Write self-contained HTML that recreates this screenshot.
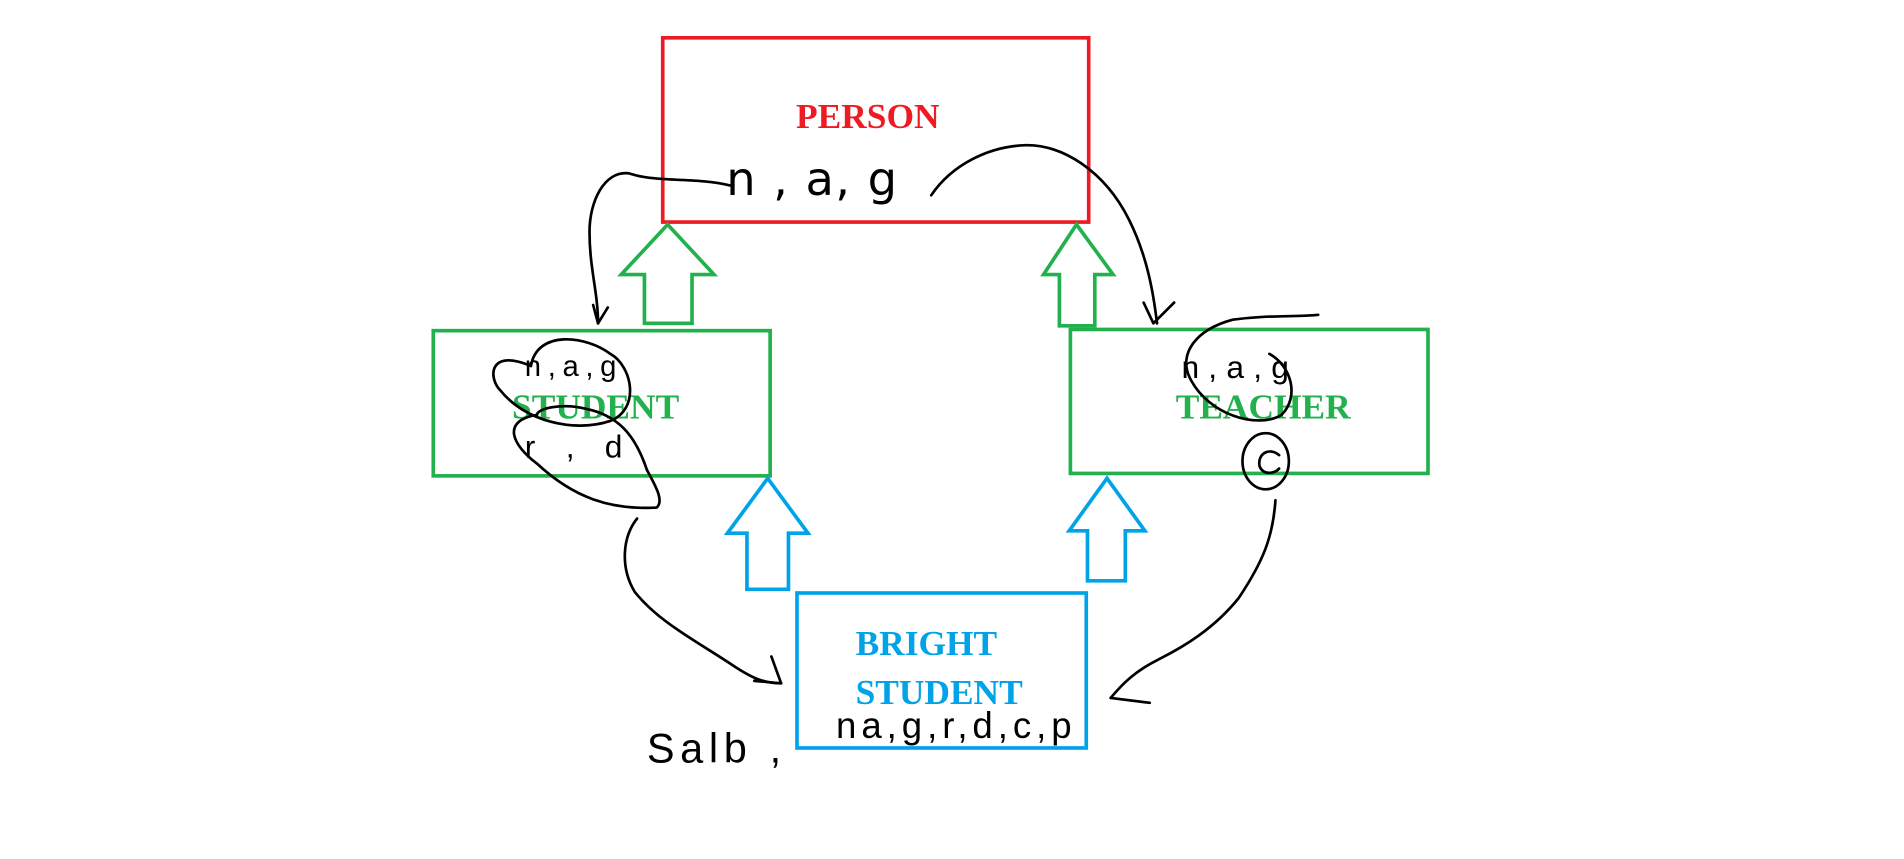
<!DOCTYPE html>
<html><head><meta charset="utf-8"><style>
html,body{margin:0;padding:0;background:#fff;}
svg{display:block;}
</style></head><body>
<svg width="1904" height="859" viewBox="0 0 1560 704" preserveAspectRatio="none" xmlns="http://www.w3.org/2000/svg">
<rect width="1560" height="704" fill="#fff"/>
<!-- boxes -->
<rect x="543" y="31" width="349" height="151" fill="none" stroke="#ed1c24" stroke-width="3"/>
<rect x="355" y="271" width="276" height="119" fill="none" stroke="#22b14c" stroke-width="3"/>
<rect x="877" y="270" width="293" height="118" fill="none" stroke="#22b14c" stroke-width="3"/>
<rect x="653" y="486" width="237" height="127" fill="none" stroke="#00a2e8" stroke-width="3"/>
<g font-family="Liberation Serif, serif" font-weight="bold" font-size="29">
<text x="711" y="105" fill="#ed1c24" text-anchor="middle">PERSON</text>
<text x="488" y="343" fill="#22b14c" text-anchor="middle">STUDENT</text>
<text x="1035" y="343" fill="#22b14c" text-anchor="middle">TEACHER</text>
<text x="701" y="537" fill="#00a2e8">BRIGHT</text>
<text x="701" y="577" fill="#00a2e8">STUDENT</text>
</g>
<!-- block arrows -->
<polygon points="547,184 585,225 567,225 567,265 528,265 528,225 509,225" fill="none" stroke="#22b14c" stroke-width="3"/>
<polygon points="882,184 912,225 897,225 897,267 868,267 868,225 855,225" fill="none" stroke="#22b14c" stroke-width="3"/>
<polygon points="629,392 662,437 646,437 646,483 612,483 612,437 596,437" fill="none" stroke="#00a2e8" stroke-width="3"/>
<polygon points="907,392 938,435 922,435 922,476 891,476 891,435 876,435" fill="none" stroke="#00a2e8" stroke-width="3"/>
<!-- handwriting -->
<g fill="none" stroke="#000" stroke-width="2.2" stroke-linecap="round" stroke-linejoin="round">
<path d="M598,152 C570,145 540,150 515,142 C495,140 483,165 483,190 C483,220 490,240 490,265"/>
<path d="M486,250 L490,265 L498,252"/>
<path d="M763,160 C780,135 810,120 840,119 C870,118 905,140 925,180 C940,210 945,240 948,265"/>
<path d="M937,248 L945,265 L962,248"/>
<path d="M435,300 C400,285 400,310 410,320 C430,345 470,355 500,345 C525,335 518,300 500,290 C480,275 440,270 435,300"/>
<path d="M440,340 C410,345 420,365 440,380 C470,408 500,418 538,416 C545,410 535,395 530,385 C520,355 505,340 480,335 C460,330 440,335 440,340"/>
<path d="M522,425 C510,440 508,465 520,485 C540,510 570,525 600,545 C615,555 625,560 640,560"/>
<path d="M632,538 L640,560 L618,558"/>
<path d="M1045,410 C1043,440 1035,460 1015,490 C995,515 970,530 950,540 C930,550 920,560 910,572"/>
<path d="M910,572 L942,576"/>
<path d="M1080,258 C1060,260 1040,258 1010,262 C980,270 965,290 975,310 C990,340 1030,352 1050,340 C1065,325 1058,300 1040,290"/>
<ellipse cx="1037" cy="378" rx="19" ry="23"/>
<path d="M1048,373 C1040,366 1030,372 1032,382 C1035,390 1045,388 1048,384"/>
</g>
<g font-family="Liberation Sans, sans-serif" fill="#000">
<text x="595" y="160" font-size="38" font-weight="normal" style="font-family:'DejaVu Sans',sans-serif" textLength="140">n , a, g</text>
<text x="430" y="308" font-size="24" textLength="75">n,a,g</text>
<text x="430" y="375" font-size="26" textLength="80">r , d</text>
<text x="968" y="310" font-size="26" textLength="88">n,a,g</text>
<text x="530" y="625" font-size="34" textLength="110">Salb ,</text>
<text x="685" y="605" font-size="30" textLength="193">na,g,r,d,c,p</text>
</g>
</svg>
</body></html>
